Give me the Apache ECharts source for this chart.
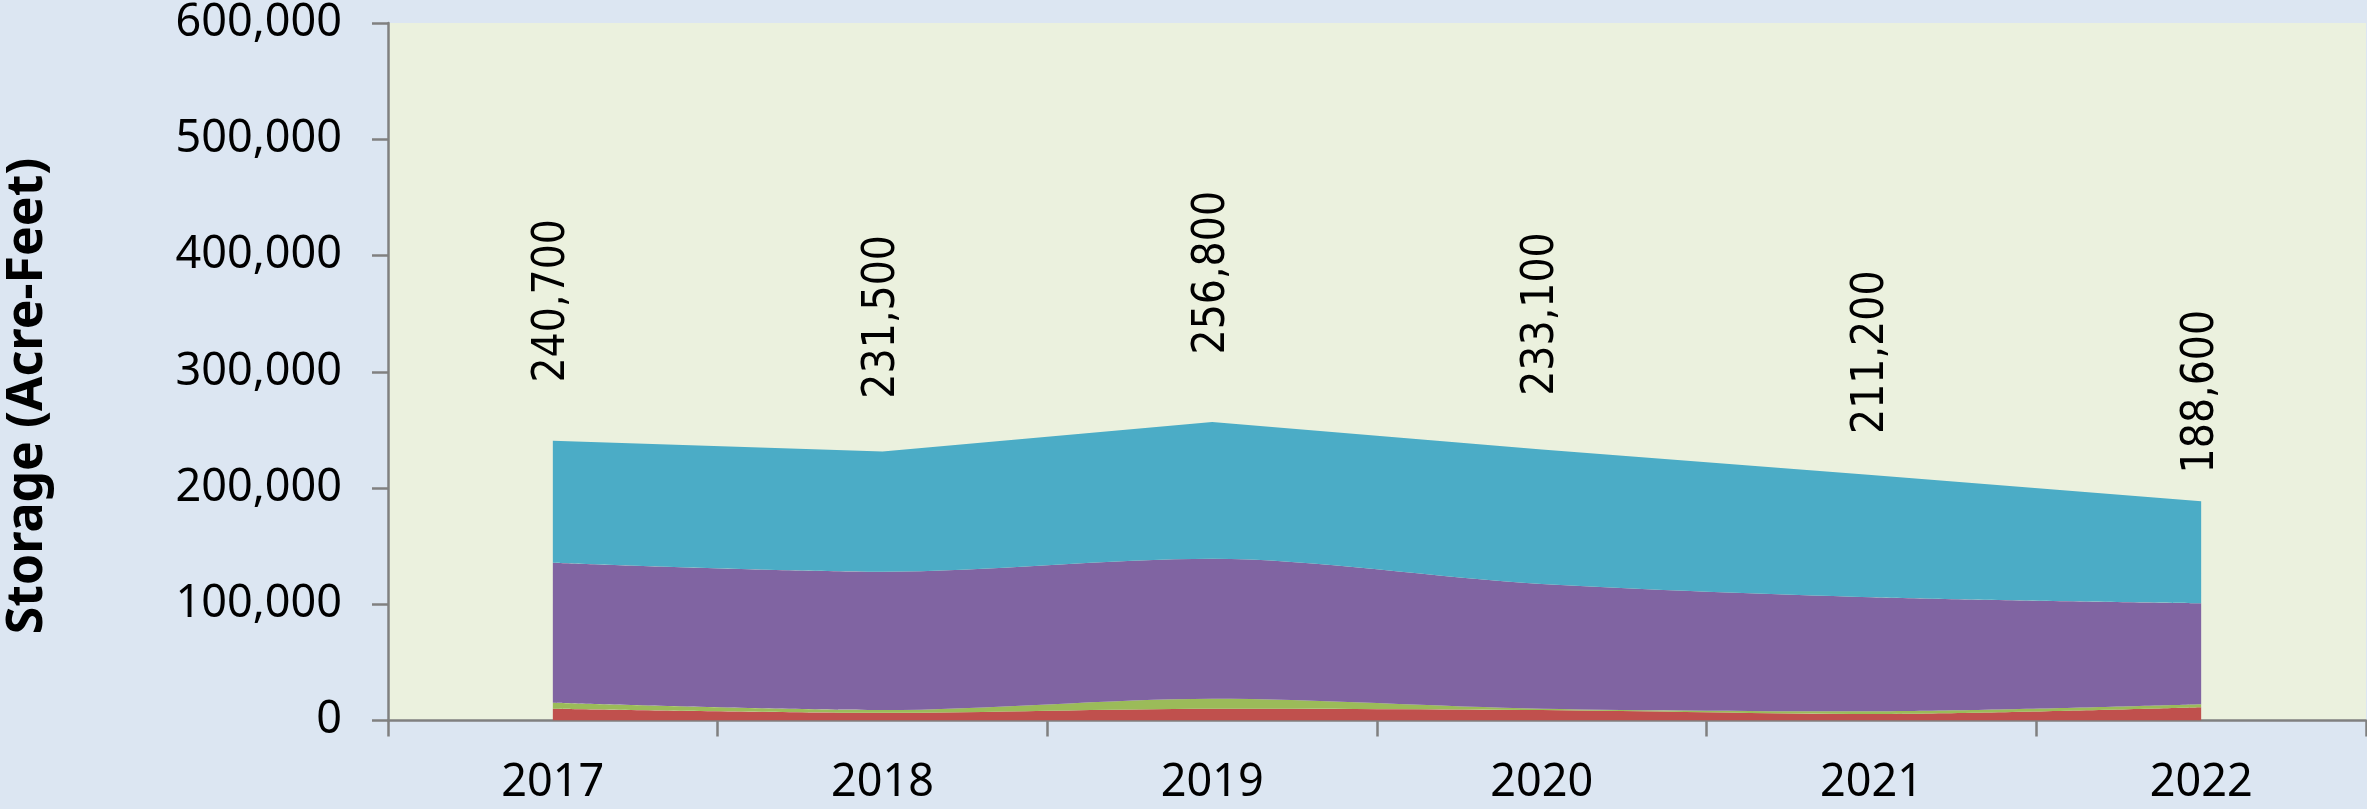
<!DOCTYPE html>
<html>
<head>
<meta charset="utf-8">
<script src="https://cdn.jsdelivr.net/npm/echarts@6/dist/echarts.min.js"></script>
<style>
  html, body { margin: 0; padding: 0; background: #DCE6F2; }
  #chart { width: 2367px; height: 809px; }
</style>
</head>
<body>
<div id="chart"></div>
<script>
// ---- data ----
const years = ['2017', '2018', '2019', '2020', '2021', '2022'];
const seriesRed    = [10200, 6700, 10200, 9000, 5600, 11400];
const seriesGreen  = [5000, 2300, 8600, 1200, 2300, 2500];
const seriesPurple = [120500, 119000, 120400, 107200, 98100, 86900];
const seriesTeal   = [105000, 103500, 117600, 115700, 105200, 87800];
const totals       = [240700, 231500, 256800, 233100, 211200, 188600];
const yTicks = [0, 100000, 200000, 300000, 400000, 500000, 600000];

const fmt = v => Number(v).toLocaleString('en-US');
const chart = echarts.init(document.getElementById('chart'), null, { renderer: 'canvas' });

const baseFont = "'Noto Sans', 'DejaVu Sans', sans-serif";

function areaSeries(name, data, color, extra) {
  return Object.assign({
    name: name,
    type: 'line',
    stack: 'total',
    data: data,
    smooth: 0.3,
    symbol: 'none',
    lineStyle: { width: 0 },
    areaStyle: { color: color, opacity: 1 },
    itemStyle: { color: color },
    emphasis: { disabled: true },
    silent: true,
    z: 2
  }, extra || {});
}

const option = {
  backgroundColor: '#DCE6F2',
  animation: false,
  grid: {
    left: 388, right: 1, top: 23, bottom: 88.5,
    show: true, backgroundColor: '#EBF1DE', borderWidth: 0
  },
  xAxis: {
    type: 'category',
    data: years,
    boundaryGap: true,
    axisLine: { show: true, lineStyle: { color: '#808080', width: 2.5 } },
    axisTick: { show: true, interval: 0, length: 16, lineStyle: { color: '#808080', width: 2.5 } },
    axisLabel: { color: '#000', fontSize: 45, fontFamily: baseFont, margin: 40 },
    splitLine: { show: false }
  },
  yAxis: {
    type: 'value',
    min: yTicks[0],
    max: yTicks[yTicks.length - 1],
    interval: yTicks[1] - yTicks[0],
    axisLine: { show: true, lineStyle: { color: '#808080', width: 2.5 } },
    axisTick: { show: true, length: 16, lineStyle: { color: '#808080', width: 2.5 } },
    axisLabel: { color: '#000', fontSize: 45, fontFamily: baseFont, margin: 46, formatter: v => fmt(v) },
    splitLine: { show: false }
  },
  graphic: [{
    type: 'text',
    x: 28, y: 396,
    rotation: Math.PI / 2,
    style: {
      text: 'Storage (Acre-Feet)',
      fill: '#000',
      font: "bold 50px 'Noto Sans', 'DejaVu Sans', sans-serif",
      align: 'center',
      verticalAlign: 'middle'
    }
  }],
  series: [
    areaSeries('Red', seriesRed, '#C0504D'),
    areaSeries('Green', seriesGreen, '#9BBB59'),
    areaSeries('Purple', seriesPurple, '#8064A2'),
    areaSeries('Teal', seriesTeal, '#4BACC6', {
      smooth: false,
      symbol: 'circle',
      symbolSize: 0,
      showSymbol: true,
      label: {
        show: true,
        rotate: 90,
        align: 'center',
        verticalAlign: 'middle',
        color: '#000',
        fontSize: 44,
        fontFamily: "'DejaVu Sans Condensed', 'Liberation Sans Narrow', 'DejaVu Sans', sans-serif",
        formatter: p => fmt(totals[p.dataIndex])
      },
      labelLayout: function (params) {
        const cx = params.rect.x + params.rect.width / 2;
        const cy = params.rect.y + params.rect.height / 2;
        let y0 = 720.5;
        try { y0 = chart.convertToPixel({ yAxisIndex: 0 }, 0); } catch (e) {}
        return { x: cx, y: y0 - 1.5 * (y0 - cy), align: 'center', verticalAlign: 'middle', rotate: 90 };
      }
    })
  ]
};

chart.setOption(option);
</script>
</body>
</html>
